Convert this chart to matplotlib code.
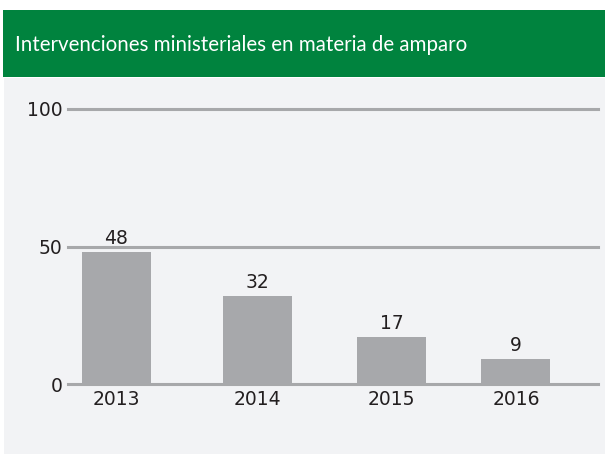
import matplotlib.pyplot as plt
from matplotlib.patches import Rectangle

years = ["2013", "2014", "2015", "2016"]
values = [48, 32, 17, 9]
x_pos = [0.0, 2.04, 3.99, 5.79]
y_ticks = [0, 50, 100]

title = "Intervenciones ministeriales en materia de amparo"

W, H = 605, 454
fig = plt.figure(figsize=(W / 100, H / 100), dpi=100)
fig.patch.set_facecolor("white")

# background panel and green header
fig.patches.append(Rectangle((4 / W, 0), 1, 376 / H, transform=fig.transFigure,
                             facecolor="#f2f3f5", edgecolor="none", zorder=0))
fig.patches.append(Rectangle((3 / W, 377 / H), 1, 67 / H, transform=fig.transFigure,
                             facecolor="#00833e", edgecolor="none", zorder=0))
fig.text(15 / W, 409 / H, title, color="white", fontsize=14.8, family="Lato",
         va="center", ha="left")

ax = fig.add_axes([68 / W, 70 / H, 530 / W, 275 / H])
ax.set_zorder(5)
ax.set_facecolor("none")
ax.set_xlim(-0.7, 6.98)
ax.set_ylim(0, 100)

for y in y_ticks:
    ax.axhline(y, color="#a7a8aa", linewidth=2.2, zorder=1, clip_on=False)

ax.bar(x_pos, values, width=1.0, color="#a7a8ab", zorder=2)
for x, v in zip(x_pos, values):
    ax.text(x, v + 1.6, str(v), ha="center", va="bottom", fontsize=13.5,
            color="#231f20", family="DejaVu Sans")

ax.set_xticks(x_pos)
ax.set_xticklabels(years)
ax.set_yticks(y_ticks)
ax.tick_params(length=0, labelsize=13.5, colors="#231f20", pad=4)
ax.tick_params(axis="y", pad=4)
for lab in ax.get_xticklabels() + ax.get_yticklabels():
    lab.set_family("DejaVu Sans")
for s in ax.spines.values():
    s.set_visible(False)

fig.savefig("out.png", dpi=100)
